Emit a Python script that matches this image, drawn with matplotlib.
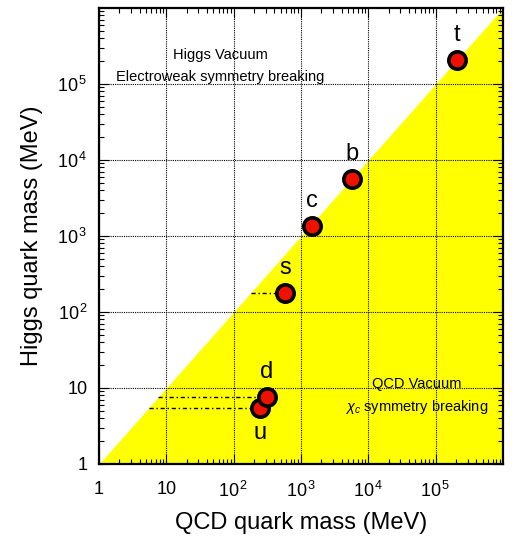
import math

import matplotlib
matplotlib.use("Agg")
import matplotlib.pyplot as plt
from matplotlib.ticker import FuncFormatter, LogLocator

plt.rcParams['font.family'] = ['Liberation Sans', 'DejaVu Sans']
plt.rcParams['mathtext.fontset'] = 'custom'
plt.rcParams['mathtext.rm'] = 'Liberation Sans'
plt.rcParams['mathtext.it'] = 'Liberation Sans:italic'

# quark masses (MeV)
quarks = ['u', 'd', 's', 'c', 'b', 't']
qcd_mass = [250, 310, 575, 1460, 5700, 2.07e5]
higgs_mass = [5.5, 7.5, 178, 1350, 5570, 2.05e5]
# quarks with a dash-dot line from the diagonal to the point
lined = ['u', 'd', 's']
decades = [1, 10, 1e2, 1e3, 1e4, 1e5]


def fmt(v, pos):
    if v < 100:
        return '%d' % v
    return r'$10^{\,%d}$' % int(round(math.log10(v)))


fig = plt.figure(figsize=(5.15, 5.39), dpi=100)
ax = fig.add_axes([99 / 515, 75 / 539, 404 / 515, 456 / 539])
ax.set_xscale('log')
ax.set_yscale('log')
ax.set_xlim(1, 1e6)
ax.set_ylim(1, 1e6)

ax.fill_between([1, 1e6], [1, 1], [1, 1e6], color='#ffff00', lw=0, zorder=0.5)
ax.grid(True, which='major', color='black', linestyle=(0, (1, 1)), lw=0.8)

for q, xq, yq in zip(quarks, qcd_mass, higgs_mass):
    if q in lined:
        ax.plot([yq, xq], [yq, yq], color='black', lw=1, linestyle=(0, (3, 2, 1, 2)), zorder=2)

ax.plot(qcd_mass, higgs_mass, 'o', ms=12.5, mfc='#ee1100', mec='black', mew=2.6, zorder=3)

for q, xq, yq in zip(quarks, qcd_mass, higgs_mass):
    dy = -18 if q == 'u' else 18
    ax.annotate(q, (xq, yq), xytext=(0, dy), textcoords='offset points',
                ha='center', va='center', fontsize=17)

ax.text(63, 2.4e5, 'Higgs Vacuum', fontsize=10.5, ha='center', va='center')
ax.text(63, 1.24e5, 'Electroweak symmetry breaking', fontsize=10.5, ha='center', va='center')
ax.text(5.2e4, 11.3, 'QCD Vacuum', fontsize=10.5, ha='center', va='center')
ax.text(5.2e4, 5.6, r'$\chi_c$ symmetry breaking', fontsize=10.5, ha='center', va='center')

ax.set_xticks(decades)
ax.set_yticks(decades)
ax.xaxis.set_minor_locator(LogLocator(base=10, subs=range(2, 10), numticks=20))
ax.yaxis.set_minor_locator(LogLocator(base=10, subs=range(2, 10), numticks=20))
ax.xaxis.set_major_formatter(FuncFormatter(fmt))
ax.yaxis.set_major_formatter(FuncFormatter(fmt))
ax.tick_params(which='both', direction='in', top=True, right=True, labelsize=13, width=0.8)
ax.tick_params(which='major', length=7)
ax.tick_params(which='minor', length=3.5)
ax.tick_params(axis='x', pad=12)
ax.tick_params(axis='y', pad=8)
for s in ax.spines.values():
    s.set_linewidth(1.6)

ax.set_xlabel('QCD quark mass (MeV)', fontsize=17, labelpad=8)
ax.set_ylabel('Higgs quark mass (MeV)', fontsize=17, labelpad=10)

fig.savefig('out.png', dpi=100)
